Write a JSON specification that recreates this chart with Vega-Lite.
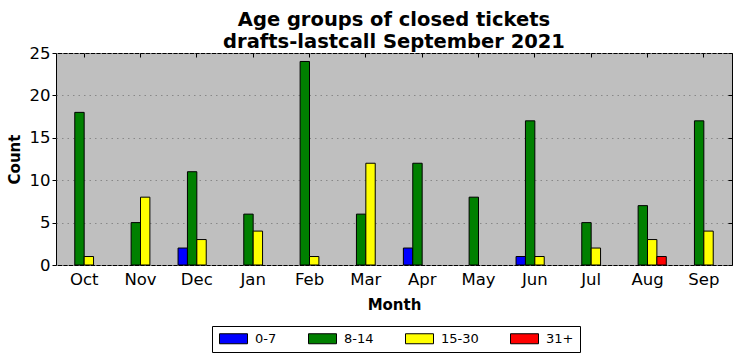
{
  "$schema": "https://vega.github.io/schema/vega-lite/v6.json",
  "autosize": "none",
  "width": 676,
  "height": 212,
  "padding": {"left": 56, "top": 53, "right": 10, "bottom": 96},
  "background": "white",
  "title": {
    "text": ["Age groups of closed tickets", "drafts-lastcall September 2021"],
    "font": "DejaVu Sans",
    "fontSize": 19.5,
    "fontWeight": "bold",
    "color": "black",
    "anchor": "middle",
    "lineHeight": 22,
    "offset": -7
  },
  "config": {
    "view": {"fill": "#bfbfbf", "stroke": "black", "strokeWidth": 1},
    "axis": {"labelFont": "DejaVu Sans", "titleFont": "DejaVu Sans", "labelColor": "black", "titleColor": "black", "tickColor": "black", "domain": false}
  },
  "data": {"values": [
    {"month": "Oct", "age": "0-7", "count": 0}, {"month": "Oct", "age": "8-14", "count": 18}, {"month": "Oct", "age": "15-30", "count": 1}, {"month": "Oct", "age": "31+", "count": 0},
    {"month": "Nov", "age": "0-7", "count": 0}, {"month": "Nov", "age": "8-14", "count": 5}, {"month": "Nov", "age": "15-30", "count": 8}, {"month": "Nov", "age": "31+", "count": 0},
    {"month": "Dec", "age": "0-7", "count": 2}, {"month": "Dec", "age": "8-14", "count": 11}, {"month": "Dec", "age": "15-30", "count": 3}, {"month": "Dec", "age": "31+", "count": 0},
    {"month": "Jan", "age": "0-7", "count": 0}, {"month": "Jan", "age": "8-14", "count": 6}, {"month": "Jan", "age": "15-30", "count": 4}, {"month": "Jan", "age": "31+", "count": 0},
    {"month": "Feb", "age": "0-7", "count": 0}, {"month": "Feb", "age": "8-14", "count": 24}, {"month": "Feb", "age": "15-30", "count": 1}, {"month": "Feb", "age": "31+", "count": 0},
    {"month": "Mar", "age": "0-7", "count": 0}, {"month": "Mar", "age": "8-14", "count": 6}, {"month": "Mar", "age": "15-30", "count": 12}, {"month": "Mar", "age": "31+", "count": 0},
    {"month": "Apr", "age": "0-7", "count": 2}, {"month": "Apr", "age": "8-14", "count": 12}, {"month": "Apr", "age": "15-30", "count": 0}, {"month": "Apr", "age": "31+", "count": 0},
    {"month": "May", "age": "0-7", "count": 0}, {"month": "May", "age": "8-14", "count": 8}, {"month": "May", "age": "15-30", "count": 0}, {"month": "May", "age": "31+", "count": 0},
    {"month": "Jun", "age": "0-7", "count": 1}, {"month": "Jun", "age": "8-14", "count": 17}, {"month": "Jun", "age": "15-30", "count": 1}, {"month": "Jun", "age": "31+", "count": 0},
    {"month": "Jul", "age": "0-7", "count": 0}, {"month": "Jul", "age": "8-14", "count": 5}, {"month": "Jul", "age": "15-30", "count": 2}, {"month": "Jul", "age": "31+", "count": 0},
    {"month": "Aug", "age": "0-7", "count": 0}, {"month": "Aug", "age": "8-14", "count": 7}, {"month": "Aug", "age": "15-30", "count": 3}, {"month": "Aug", "age": "31+", "count": 1},
    {"month": "Sep", "age": "0-7", "count": 0}, {"month": "Sep", "age": "8-14", "count": 17}, {"month": "Sep", "age": "15-30", "count": 4}, {"month": "Sep", "age": "31+", "count": 0}
  ]},
  "resolve": {"axis": {"x": "independent", "y": "independent"}},
  "layer": [
    {
      "transform": [{"filter": "datum.count > 0"}],
      "mark": {"type": "bar", "stroke": "black", "strokeWidth": 1, "opacity": 1},
      "encoding": {
        "x": {
          "field": "month", "type": "nominal",
          "scale": {"domain": ["Oct","Nov","Dec","Jan","Feb","Mar","Apr","May","Jun","Jul","Aug","Sep"], "paddingInner": 0, "paddingOuter": 0},
          "axis": {"title": "Month", "titleFontSize": 15, "titleFontWeight": "bold", "labelFontSize": 16.5, "labelAngle": 0, "ticks": false, "labelPadding": 6, "titlePadding": 10, "grid": false}
        },
        "xOffset": {
          "field": "age", "type": "nominal",
          "scale": {"domain": ["0-7","8-14","15-30","31+"], "paddingInner": 0, "paddingOuter": 1}
        },
        "y": {
          "field": "count", "type": "quantitative",
          "scale": {"domain": [0, 25], "nice": false},
          "axis": {"title": "Count", "titleFontSize": 15, "titleFontWeight": "bold", "labelFontSize": 16.5, "values": [0,5,10,15,20,25], "tickSize": 4, "labelPadding": 2, "titlePadding": 7, "grid": true, "gridColor": "#888888", "gridDash": [1.5, 4], "gridWidth": 1}
        },
        "color": {
          "field": "age", "type": "nominal",
          "scale": {"domain": ["0-7","8-14","15-30","31+"], "range": ["#0000ff","#008000","#ffff00","#ff0000"]},
          "legend": {
            "title": null,
            "orient": "none",
            "legendX": 156,
            "legendY": 273,
            "direction": "horizontal",
            "columns": 4,
            "labelFont": "DejaVu Sans",
            "labelFontSize": 13,
            "labelColor": "black",
            "symbolType": "M-2.8,-1H2.8V1H-2.8Z",
            "symbolSize": 100,
            "symbolStrokeColor": "black",
            "symbolStrokeWidth": 1,
            "symbolOpacity": 1,
            "symbolOffset": 9,
            "labelOffset": 15,
            "columnPadding": 29,
            "strokeColor": "black",
            "fillColor": "white",
            "padding": 6
          }
        }
      }
    },
    {
      "mark": {"type": "bar", "opacity": 0},
      "encoding": {
        "x": {
          "field": "month", "type": "nominal",
          "axis": {"orient": "top", "title": null, "labels": false, "tickSize": -4, "grid": false}
        },
        "xOffset": {"field": "age", "type": "nominal"},
        "y": {
          "field": "count", "type": "quantitative",
          "axis": {"orient": "right", "title": null, "labels": false, "tickSize": -4, "values": [0,5,10,15,20,25], "grid": false}
        }
      }
    }
  ]
}
